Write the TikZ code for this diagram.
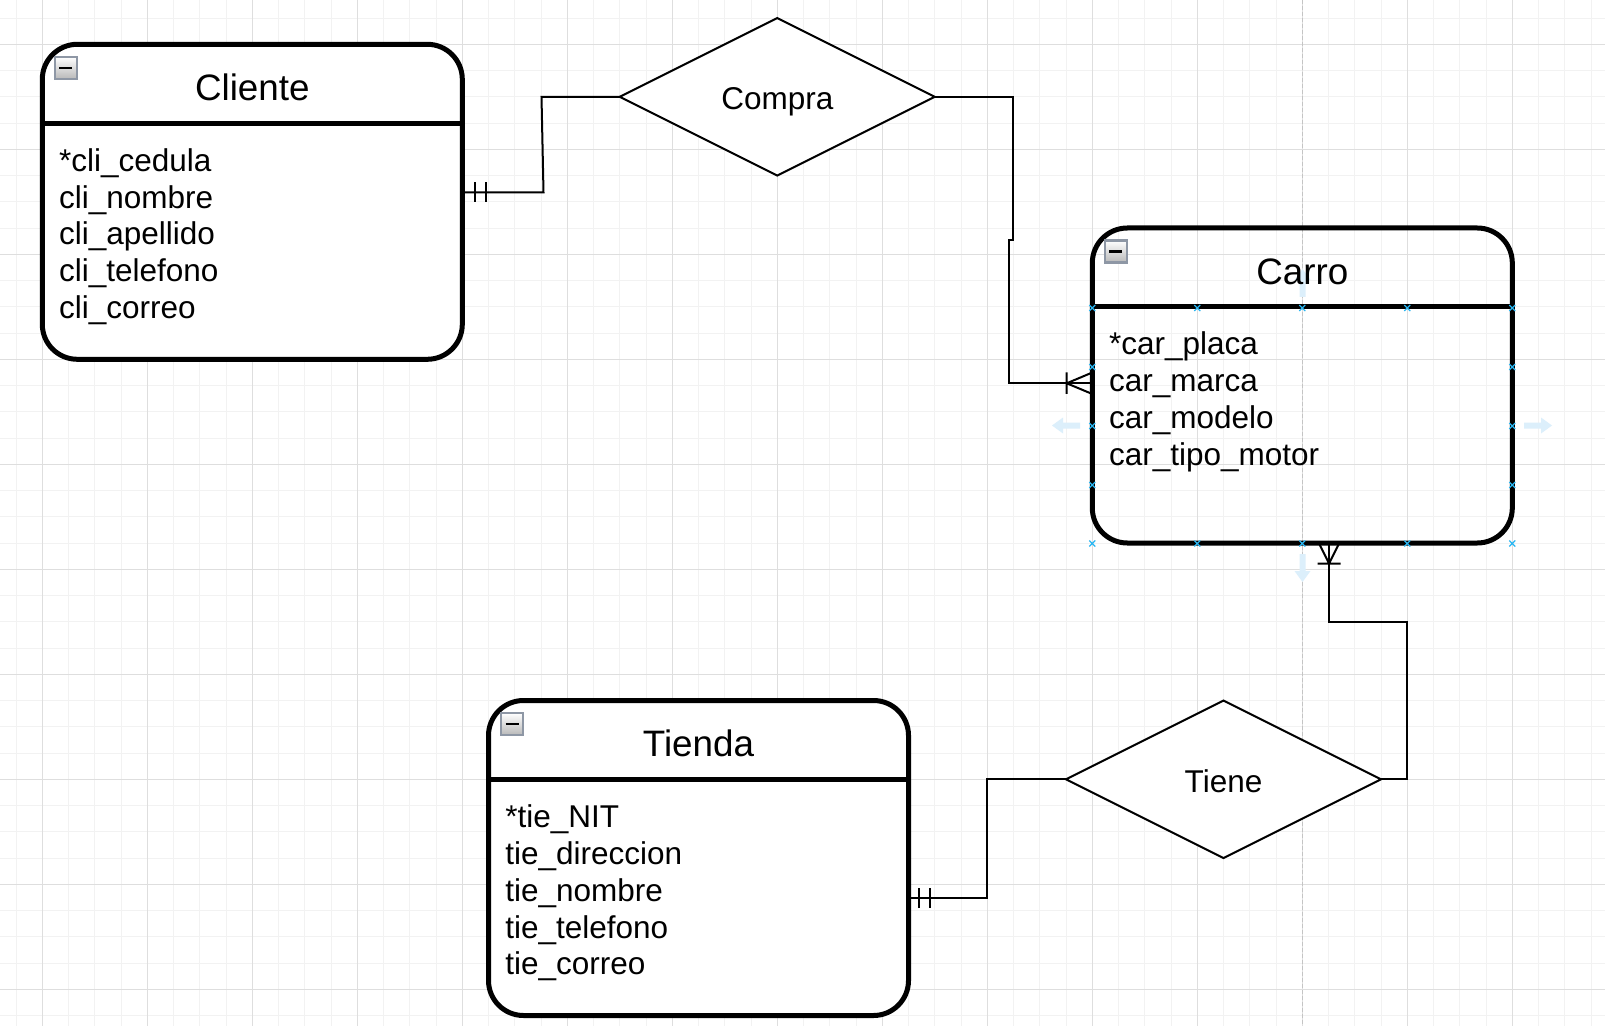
\documentclass[tikz,border=0pt]{standalone}
\usepackage{fontspec}
\setmainfont{Liberation Sans}
\newcommand{\titlefont}{\fontsize{18.4}{22}\selectfont}
\newcommand{\attrfont}{\fontsize{15.75}{18.4}\selectfont}
\usetikzlibrary{shapes.geometric}
\definecolor{gridminor}{HTML}{F2F2F2}
\definecolor{gridmajor}{HTML}{DEDEDE}
\definecolor{guide}{HTML}{C4C4C4}
\definecolor{handle}{HTML}{29B6F2}
\definecolor{hint}{HTML}{DCEFFB}
\definecolor{iconline}{HTML}{8E97A5}
\begin{document}
\begin{tikzpicture}[x=0.5pt,y=-0.5pt,
	entity/.style={draw, line width=2.5pt, rounded corners=17.5pt, minimum width=210pt, minimum height=157.5pt, inner sep=0pt, outer sep=0pt, fill=white},
	relation/.style={draw, diamond, line width=1pt, minimum width=157.5pt, minimum height=78.75pt, inner sep=0pt, outer sep=0pt, fill=white, font=\attrfont, text height=12.8pt, text depth=0pt},
	link/.style={line width=1pt},
	title/.style={anchor=base, font=\titlefont, inner sep=0pt},
	attr/.style={anchor=base west, font=\attrfont, inner sep=0pt},
	handlemark/.style={handle, line width=0.6pt},
	]
	\useasboundingbox (0,0) rectangle (1605,1026);
	\fill[white] (0,0) rectangle (1605,1026);
	% grid
	\foreach \gx in {16.05,42.3,...,1605} \draw[gridminor, line width=0.5pt] (\gx,0) -- (\gx,1026);
	\foreach \gy in {18.05,44.3,...,1026} \draw[gridminor, line width=0.5pt] (0,\gy) -- (1605,\gy);
	\foreach \gx in {42.3,147.3,...,1605} \draw[gridmajor, line width=0.5pt] (\gx,0) -- (\gx,1026);
	\foreach \gy in {44.3,149.3,...,1026} \draw[gridmajor, line width=0.5pt] (0,\gy) -- (1605,\gy);
	\draw[guide, line width=0.5pt, dash pattern=on 2pt off 1pt] (1302.7,0) -- (1302.7,1026);

	\node[entity] (cliente) at (252.3,201.8) {};
	\node[entity, fill=none] (carro) at (1302.3,385.5) {};
	\node[entity] (tienda) at (698.5,858) {};
	\node[relation] (compra) at (777.3,96.8) {Compra};
	\node[relation] (tiene) at (1223.5,779.3) {Tiene};

	% hover arrows round the selected box
	\foreach \px/\py/\ang in {1080/425.5/180, 1524/425.5/0, 1302.5/297/90, 1302.5/554/270}
		\fill[hint, shift={(\px,\py)}, rotate=\ang] (0,-3) -- (17,-3) -- (17,-8) -- (28,0) -- (17,8) -- (17,3) -- (0,3) -- cycle;

	\foreach \ent/\name in {cliente/Cliente, carro/Carro, tienda/Tienda} {
		\draw[line width=2.5pt] ([yshift=-39.375pt]\ent.north west) -- ([yshift=-39.375pt]\ent.north east);
		\node[title] at ([yshift=-28.2pt]\ent.north) {\name};
		\draw[iconline, line width=1.2pt, top color=white, bottom color=gray!55] ([shift={(12.5,12.5)}]\ent.north west) rectangle ++(22,22);
		\draw[line width=1.2pt] ([shift={(17,23.5)}]\ent.north west) -- ++(13,0);
	}
	\foreach \a [count=\i from 0] in {*cli\_cedula, cli\_nombre, cli\_apellido, cli\_telefono, cli\_correo}
		\node[attr] at ([shift={(16.4,127+36.85*\i)}]cliente.north west) {\a};
	\foreach \a [count=\i from 0] in {*car\_placa, car\_marca, car\_modelo, car\_tipo\_motor}
		\node[attr] at ([shift={(16.4,127+36.85*\i)}]carro.north west) {\a};
	\foreach \a [count=\i from 0] in {*tie\_NIT, tie\_direccion, tie\_nombre, tie\_telefono, tie\_correo}
		\node[attr] at ([shift={(16.4,127+36.85*\i)}]tienda.north west) {\a};

	% Cliente -- Compra
	\draw[link] (cliente.east |- 0,192.5) -- (543.5,192.5) -- (541.5,96.8) -- (compra.west);
	\draw[link] (475,182.5) -- (475,202.5) (485.5,182.5) -- (485.5,202.5);
	% Compra -- Carro
	\draw[link] (compra.east) -- (1013.3,96.8) -- (1013.3,240) -- (1009,240) -- (1009,383.3) -- (carro.west |- 0,383.3);
	\draw[link] (1092.3,372.5) -- (1066.7,383.3) -- (1092.3,394) (1066.7,372.5) -- (1066.7,394);
	% Carro -- Tiene
	\draw[link] (carro.south -| 1329,0) -- (1329,622.3) -- (1407.3,622.3) -- (1407.3,779.3) -- (tiene.east);
	\draw[link] (1319,543.5) -- (1329,563.5) -- (1339,543.5) (1317.5,563.5) -- (1340.5,563.5);
	% Tiene -- Tienda
	\draw[link] (tiene.west) -- (987,779.3) -- (987,898.3) -- (tienda.east |- 0,898.3);
	\draw[link] (919.3,888) -- (919.3,908) (929.7,888) -- (929.7,908);

	% connection points of the selected box
	\foreach \hx in {1092.3,1197.3,1302.3,1407.3,1512.3}
		\foreach \hy in {308,543.5}
			\draw[handlemark] (\hx-3,\hy-3) -- (\hx+3,\hy+3) (\hx-3,\hy+3) -- (\hx+3,\hy-3);
	\foreach \hx in {1092.3,1512.3}
		\foreach \hy in {367,426,485}
			\draw[handlemark] (\hx-3,\hy-3) -- (\hx+3,\hy+3) (\hx-3,\hy+3) -- (\hx+3,\hy-3);
\end{tikzpicture}
\end{document}
